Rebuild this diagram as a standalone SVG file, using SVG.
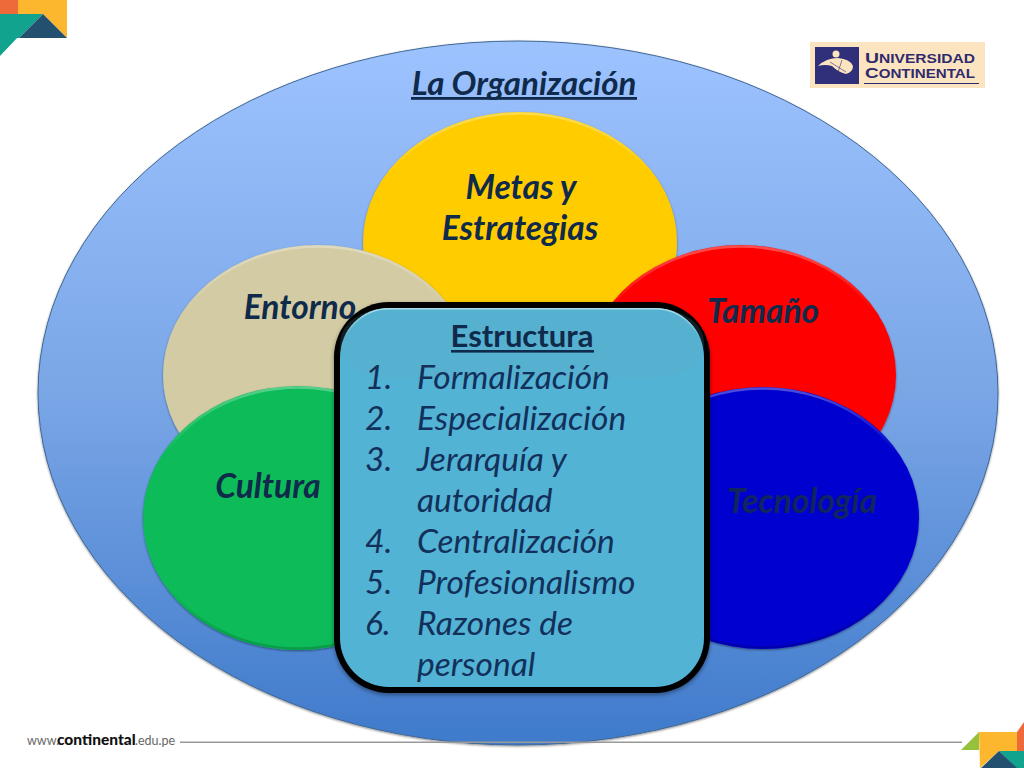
<svg xmlns="http://www.w3.org/2000/svg" width="1024" height="768" viewBox="0 0 1024 768">
<style>
text{font-family:Lato,"Liberation Sans",sans-serif;fill:#0f2a4a}
.h{font-weight:700;font-style:italic;font-size:33.500px;text-anchor:middle}
.s{font-size:33.500px;font-style:italic;fill:#12305a}
.b{filter:url(#sh)}
.r{fill:none;stroke:url(#rim);stroke-width:2.500}
.lg{font-family:"Liberation Sans",sans-serif;font-weight:700;fill:#2f2a6e}
</style>
<defs>
<linearGradient id="bg" x1="0" y1="0" x2="0" y2="1"><stop offset="0" stop-color="#9dc3ff"/><stop offset=".5" stop-color="#7aa6e6"/><stop offset="1" stop-color="#3f7acb"/></linearGradient>
<linearGradient id="rim" x1="0" y1="0" x2="0" y2="1"><stop offset="0" stop-color="#fff" stop-opacity=".3"/><stop offset=".25" stop-color="#fff" stop-opacity="0"/><stop offset=".75" stop-color="#000" stop-opacity="0"/><stop offset="1" stop-color="#000" stop-opacity=".18"/></linearGradient>
<linearGradient id="bxr" x1="0" y1="0" x2="0" y2="1"><stop offset="0" stop-color="#a8dfe8"/><stop offset=".08" stop-color="#a8dfe8" stop-opacity="0"/></linearGradient>
<filter id="sh" x="-5%" y="-5%" width="110%" height="110%"><feDropShadow dx="0" dy="1" stdDeviation="1" flood-color="#000" flood-opacity=".45"/></filter>
<filter id="sh2" x="-5%" y="-5%" width="110%" height="110%"><feDropShadow dx="0" dy="2" stdDeviation="2" flood-color="#000" flood-opacity=".4"/></filter>
</defs>
<rect width="1024" height="768" fill="#fff"/>
<g id="corner-top">
<polygon points="0,0 18,0 18,14 0,14" fill="#ef6a3a"/>
<polygon points="18,0 67,0 67,38 43,14 18,14" fill="#fdb72f"/>
<polygon points="0,14 43,14 19,38 17,38 0,56" fill="#12a38f"/>
<polygon points="43,14 67,38 19,38" fill="#23506e"/>
</g>
<g id="logo">
<rect x="810" y="42" width="175" height="46" fill="#fde4c0"/>
<rect x="815" y="47" width="44" height="37" fill="#2f2f7a"/>
<circle cx="836" cy="54" r="3.500" fill="#fde4c0"/>
<path d="M818 66 Q826 58 838 58 Q850 59 853 66 Q853 72 846 74 Q838 72 832 66 Q825 64 818 66Z" fill="#fde4c0"/>
<path d="M830 62 L846 72 M842 60 L838 72" stroke="#2f2f7a" stroke-width=".6" fill="none"/>
<text class="lg" x="865" y="63" font-size="12" textLength="110" lengthAdjust="spacingAndGlyphs"><tspan font-size="15">U</tspan>NIVERSIDAD</text>
<text class="lg" x="865" y="78" font-size="12" textLength="110" lengthAdjust="spacingAndGlyphs"><tspan font-size="15">C</tspan>ONTINENTAL</text>
<rect x="864" y="83" width="115" height="1" fill="#2f2a6e"/>
</g>
<g id="organizacion">
<ellipse cx="518" cy="393" rx="480" ry="352" fill="url(#bg)" stroke="#3f6796" stroke-width="1" filter="url(#sh)"/>
<text x="524" y="95" font-size="33" font-weight="700" font-style="italic" text-anchor="middle">La Organización</text>
<rect x="411" y="97" width="226" height="2.800" fill="#0f2a4a"/>
</g>
<g id="metas">
<ellipse class="b" cx="520" cy="242" rx="157" ry="130" fill="#ffcc00"/>
<ellipse class="r" cx="520" cy="242" rx="155.500" ry="128.500"/>
<text class="h" x="521" y="199">Metas y</text>
<text class="h" x="520" y="240">Estrategias</text>
</g>
<g id="entorno">
<ellipse class="b" cx="318" cy="375" rx="155" ry="130" fill="#d2cba3"/>
<ellipse class="r" cx="318" cy="375" rx="153.500" ry="128.500"/>
<text class="h" x="300" y="319">Entorno</text>
</g>
<g id="tamano">
<ellipse class="b" cx="741" cy="375" rx="155" ry="130" fill="#ff0000"/>
<ellipse class="r" cx="741" cy="375" rx="153.500" ry="128.500"/>
<text class="h" x="763" y="323">Tamaño</text>
</g>
<g id="cultura">
<ellipse class="b" cx="298" cy="518" rx="155" ry="132" fill="#07bc58"/>
<ellipse class="r" cx="298" cy="518" rx="153.500" ry="130.500"/>
<text class="h" x="268" y="498">Cultura</text>
</g>
<g id="tecnologia">
<ellipse class="b" cx="763" cy="518" rx="156" ry="131" fill="#0505cf"/>
<ellipse class="r" cx="763" cy="518" rx="154.500" ry="129.500"/>
<text class="h" x="802" y="513" style="fill:#10245f">Tecnología</text>
</g>
<g id="estructura">
<rect x="334" y="302" width="376" height="391" rx="55" fill="#000" filter="url(#sh2)"/>
<rect x="340" y="308" width="364" height="379" rx="49" fill="#52b3d5"/>
<rect x="340" y="308" width="364" height="70" rx="49" fill="#6aa8bc" opacity=".18"/>
<rect x="340.800" y="308.800" width="362.400" height="377.400" rx="48" fill="none" stroke="url(#bxr)" stroke-width="1.600"/>
<text x="522" y="347" font-size="31" font-weight="700" text-anchor="middle">Estructura</text>
<rect x="451" y="350" width="143" height="2.600" fill="#0f2a4a"/>
<text class="s" x="365" y="389">1.</text><text class="s" x="417" y="389">Formalización</text>
<text class="s" x="365" y="430">2.</text><text class="s" x="417" y="430">Especialización</text>
<text class="s" x="365" y="471">3.</text><text class="s" x="417" y="471">Jerarquía y</text>
<text class="s" x="417" y="512">autoridad</text>
<text class="s" x="365" y="553">4.</text><text class="s" x="417" y="553">Centralización</text>
<text class="s" x="365" y="594">5.</text><text class="s" x="417" y="594">Profesionalismo</text>
<text class="s" x="365" y="635">6.</text><text class="s" x="417" y="635">Razones de</text>
<text class="s" x="417" y="676">personal</text>
</g>
<g id="footer">
<text x="27" y="745" font-size="12.500" style="fill:#666">www.<tspan x="57" font-size="15.500" font-weight="900" style="fill:#111">continental</tspan><tspan x="135">.edu.pe</tspan></text>
<rect x="180" y="741.500" width="782" height="1.500" fill="#999"/>
<polygon points="961,750 979,732 979,750" fill="#95c13d"/>
<polygon points="979,732 1017,732 1017,751 999,751 980,768" fill="#fdb72f"/>
<polygon points="1017,732 1024,722 1024,751 1017,751" fill="#ef6a3a"/>
<polygon points="999,751 1024,751 1024,768 1016,768" fill="#12a38f"/>
<polygon points="999,751 981,768 1017,768" fill="#23506e"/>
</g>
</svg>
